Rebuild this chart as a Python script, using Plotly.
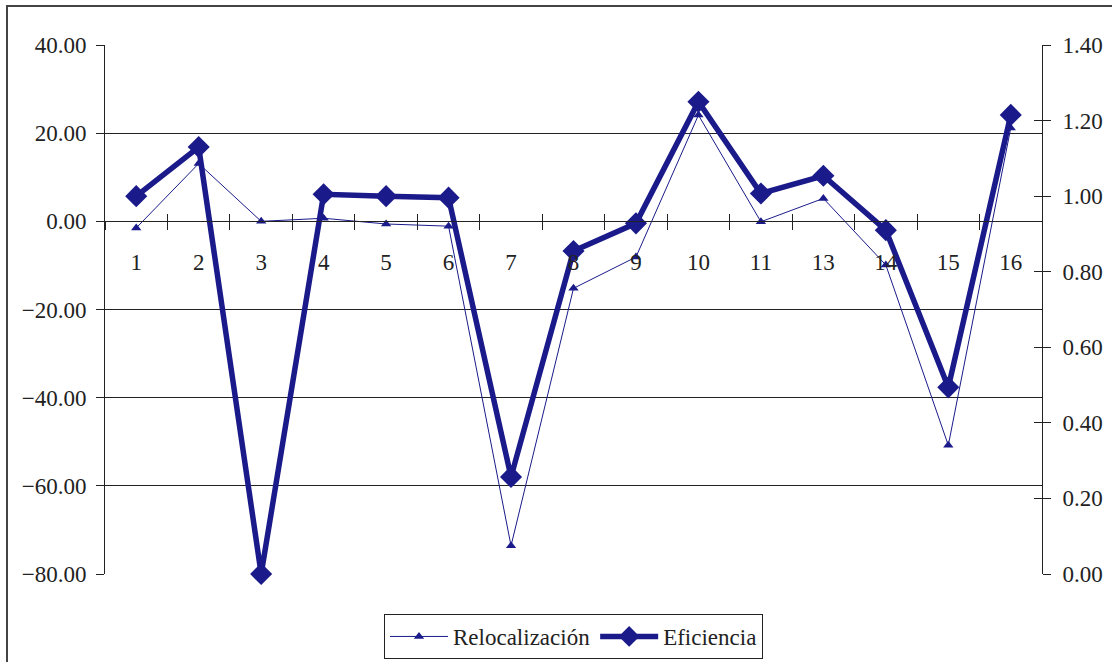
import plotly.graph_objects as go

# Observation labels (no 12 in the series)
categories = ["1", "2", "3", "4", "5", "6", "7", "8", "9", "10", "11", "13", "14", "15", "16"]

# Left axis series
relocalizacion = [-1.5, 13.1, 0.0, 0.7, -0.6, -1.1, -73.6, -15.2, -8.1, 24.1, -0.1, 5.2, -9.9, -50.8, 21.2]

# Right axis series
eficiencia = [1.00, 1.13, 0.00, 1.005, 1.00, 0.996, 0.257, 0.855, 0.928, 1.25, 1.007, 1.054, 0.91, 0.494, 1.215]

left_ticks = [40, 20, 0, -20, -40, -60, -80]
right_ticks = [0.0, 0.2, 0.4, 0.6, 0.8, 1.0, 1.2, 1.4]

NAVY = "#1a1a8a"
INK = "#222222"
FONT = dict(family="Liberation Serif", size=23, color=INK)
X_RANGE = [-0.5, len(categories) - 0.5]

fig = go.Figure()

fig.add_trace(go.Scatter(
    x=categories, y=relocalizacion, name="Relocalización",
    mode="lines+markers", xaxis="x", yaxis="y", cliponaxis=False,
    line=dict(color=NAVY, width=1),
    marker=dict(symbol="triangle-up", size=9, color=NAVY),
))

fig.add_trace(go.Scatter(
    x=categories, y=eficiencia, name="Eficiencia",
    mode="lines+markers", xaxis="x", yaxis="y2", cliponaxis=False,
    line=dict(color=NAVY, width=5.5),
    marker=dict(symbol="diamond", size=17, color=NAVY),
))

# Transparent companions so the inward tick axes get drawn (crossing ticks)
fig.add_trace(go.Scatter(
    x=categories, y=relocalizacion, xaxis="x2", yaxis="y3", mode="lines",
    opacity=0, showlegend=False, hoverinfo="skip",
))
fig.add_trace(go.Scatter(
    x=categories, y=eficiencia, xaxis="x2", yaxis="y4", mode="lines",
    opacity=0, showlegend=False, hoverinfo="skip",
))

axis_common = dict(linecolor=INK, tickcolor=INK, tickfont=FONT)

fig.update_layout(
    width=1112, height=662,
    margin=dict(l=105, r=70, t=45, b=88, autoexpand=False),
    paper_bgcolor="white", plot_bgcolor="white",
    font=FONT,
    showlegend=True,
    legend=dict(
        orientation="h", x=0.5, xanchor="center", y=-0.0756, yanchor="top",
        bordercolor=INK, borderwidth=1, font=FONT, itemwidth=58,
        traceorder="normal",
    ),
    xaxis=dict(
        type="category", categoryorder="array", categoryarray=categories,
        range=X_RANGE, anchor="free", position=2 / 3,
        showline=True, linewidth=1, ticks="outside", ticklen=8,
        tickson="boundaries", showgrid=False, zeroline=False,
        ticklabelstandoff=20, **axis_common,
    ),
    xaxis2=dict(
        type="category", categoryorder="array", categoryarray=categories,
        range=X_RANGE, overlaying="x", anchor="free", position=2 / 3,
        showline=False, ticks="inside", ticklen=7, tickson="boundaries",
        showticklabels=False, showgrid=False, zeroline=False, tickcolor=INK,
    ),
    yaxis=dict(
        range=[-80, 40], tickvals=left_ticks, tickformat=".2f",
        showline=True, linewidth=1, ticks="outside", ticklen=8,
        showgrid=True, gridcolor=INK, gridwidth=1, zeroline=False,
        ticklabelstandoff=5, **axis_common,
    ),
    yaxis3=dict(
        range=[-80, 40], tickvals=left_ticks, overlaying="y", side="left",
        anchor="free", position=0, ticks="inside", ticklen=7,
        showticklabels=False, showgrid=False, zeroline=False, showline=False,
        tickcolor=INK,
    ),
    yaxis2=dict(
        range=[0, 1.4], tickvals=right_ticks, tickformat=".2f",
        overlaying="y", side="right", anchor="x",
        showline=True, linewidth=1, ticks="outside", ticklen=8,
        showgrid=False, zeroline=False, ticklabelstandoff=7, **axis_common,
    ),
    yaxis4=dict(
        range=[0, 1.4], tickvals=right_ticks, overlaying="y", side="right",
        anchor="free", position=1, ticks="inside", ticklen=8,
        showticklabels=False, showgrid=False, zeroline=False, showline=False,
        tickcolor=INK,
    ),
    shapes=[dict(
        type="rect", xref="paper", yref="paper",
        x0=(7 - 105) / 937, x1=1.2, y0=-0.5, y1=(574 - 6) / 529,
        line=dict(color="#444444", width=2), fillcolor="rgba(0,0,0,0)",
        layer="below",
    )],
)

fig.write_html("out.html")
